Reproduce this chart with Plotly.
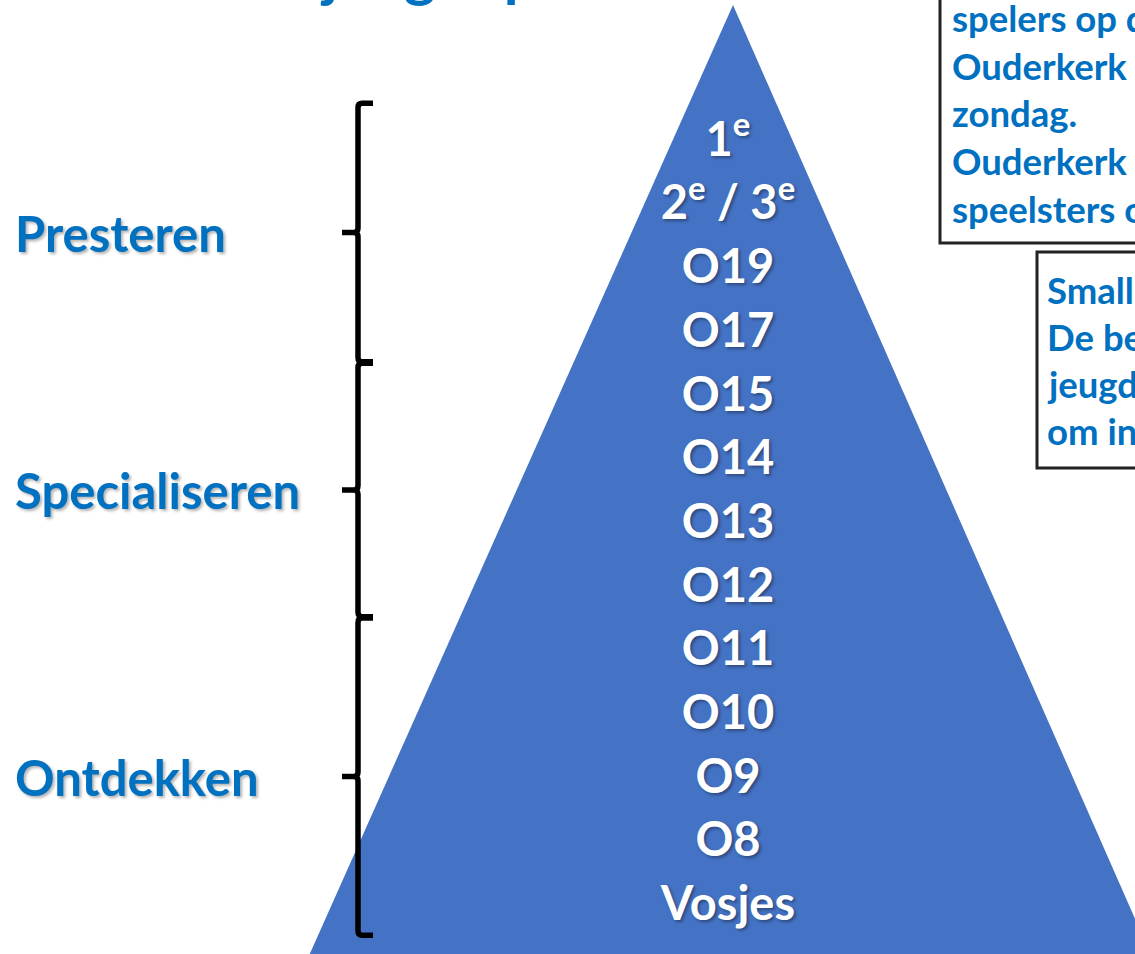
import plotly.graph_objects as go

# ---------------- data ----------------
levels = ["1<sup>e</sup>", "2<sup>e</sup> / 3<sup>e</sup>", "O19", "O17", "O15", "O14",
          "O13", "O12", "O11", "O10", "O9", "O8", "Vosjes"]
rows = list(range(len(levels)))
groups = ["Presteren", "Specialiseren", "Ontdekken"]
group_first = [0, 4, 8]
group_last = [3, 7, 12]
box1_lines = ["spelers op de", "Ouderkerk 1 speelt", "zondag.", "Ouderkerk 1", "speelsters op"]
box2_lines = ["Smallsided", "De beste", "jeugdspelers", "om in"]
title_text = "jeugdopbouw"

# ---------------- geometry helpers ----------------
W, H = 1135, 954
ROW0_PX, ROW_PX = 144.0, 63.7


def px_to_row(py):
    return (py - ROW0_PX) / ROW_PX


def ypap(py):
    return 1 - py / H


def xpap(px):
    return px / W


BLUE = "#0070C0"
PYR = "#4472C4"
FONT = "Lato"

fig = go.Figure()

# pyramid
apex_x, apex_py = 733.0, 5.0
base_py = 1040.0
dy = base_py - apex_py
fig.add_trace(go.Scatter(
    x=[apex_x, apex_x - 0.446 * dy, apex_x + 0.440 * dy, apex_x],
    y=[px_to_row(apex_py), px_to_row(base_py), px_to_row(base_py), px_to_row(apex_py)],
    mode="lines", fill="toself", fillcolor=PYR, line=dict(width=0, color=PYR),
    hoverinfo="skip"))

# level labels
fig.add_trace(go.Scatter(
    x=[728] * len(levels), y=rows, text=levels, mode="text",
    textposition="middle center",
    textfont=dict(family=FONT, size=47, color="white", weight=700,
                  shadow="2px 2px 3px rgba(0,0,0,0.35)"),
    hoverinfo="skip"))

shapes = []
annotations = []

# brackets + group labels
xv, xr, xl = 358.0, 373.0, 342.0
r = 0.07
for i, (name, f, l) in enumerate(zip(groups, group_first, group_last)):
    top = f - 0.56 if i > 0 else f - 0.64
    bot = l + 0.42
    mid = (top + bot) / 2
    path = (f"M {xr},{top} L {xv+4},{top} Q {xv},{top} {xv},{top+r} "
            f"L {xv},{mid-r} Q {xv},{mid} {xv-4},{mid} L {xl},{mid} "
            f"M {xv-4},{mid} Q {xv},{mid} {xv},{mid+r} "
            f"L {xv},{bot-r} Q {xv},{bot} {xv+4},{bot} L {xr},{bot}")
    shapes.append(dict(type="path", path=path, xref="x", yref="y",
                       line=dict(color="black", width=5.5)))
    annotations.append(dict(x=13, y=mid, xref="x", yref="y", text=name,
                            showarrow=False, xanchor="left", yanchor="middle",
                            font=dict(family=FONT, size=49, color=BLUE, weight=700,
                                      shadow="2px 2px 3px rgba(0,0,0,0.3)")))

# text boxes (cut off by the page edge)
shapes.append(dict(type="rect", xref="paper", yref="paper",
                   x0=xpap(940), x1=1.3, y0=ypap(243), y1=1.3,
                   line=dict(color="#222222", width=3), fillcolor="rgba(0,0,0,0)"))
shapes.append(dict(type="rect", xref="paper", yref="paper",
                   x0=xpap(1037), x1=1.3, y0=ypap(468), y1=ypap(252),
                   line=dict(color="#222222", width=3), fillcolor="rgba(0,0,0,0)"))

for k, line in enumerate(box1_lines):
    annotations.append(dict(x=xpap(950), y=ypap(18.5 + 47.5 * k), xref="paper", yref="paper",
                            text=line, showarrow=False, xanchor="left", yanchor="middle",
                            font=dict(family=FONT, size=36.5, color=BLUE, weight=700)))
for k, line in enumerate(box2_lines):
    annotations.append(dict(x=xpap(1045), y=ypap(289.5 + 47.3 * k), xref="paper", yref="paper",
                            text=line, showarrow=False, xanchor="left", yanchor="middle",
                            font=dict(family=FONT, size=36.5, color=BLUE, weight=700)))

# title (only descenders visible)
annotations.append(dict(x=xpap(318), y=ypap(-28), xref="paper", yref="paper",
                        text=title_text, showarrow=False, xanchor="left", yanchor="middle",
                        font=dict(family=FONT, size=60, color=BLUE, weight=700)))

fig.update_layout(
    width=W, height=H, margin=dict(l=0, r=0, t=0, b=0),
    paper_bgcolor="white", plot_bgcolor="white", showlegend=False,
    xaxis=dict(range=[0, W], visible=False, fixedrange=True),
    yaxis=dict(range=[px_to_row(H), px_to_row(0)], visible=False, fixedrange=True),
    shapes=shapes, annotations=annotations,
)

fig.write_html("out.html", config={"displayModeBar": False},
               post_script="document.body.style.margin='0';document.body.style.overflow='hidden';")
